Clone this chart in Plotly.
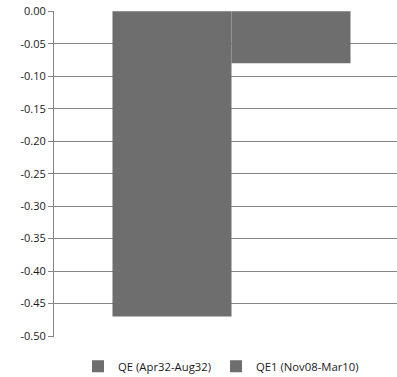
import plotly.graph_objects as go

# Change in yield, two QE episodes
series_names = ["QE (Apr32-Aug32)", "QE1 (Nov08-Mar10)"]
series_values = [-0.47, -0.08]
category = [""]
tick_values = [0.00, -0.05, -0.10, -0.15, -0.20, -0.25, -0.30, -0.35, -0.40, -0.45, -0.50]
tick_labels = ["0.00", "-0.05", "-0.10", "-0.15", "-0.20", "-0.25", "-0.30", "-0.35", "-0.40", "-0.45", "-0.50"]

bar_color = "#6e6e6e"

fig = go.Figure()
for name, val in zip(series_names, series_values):
    fig.add_trace(go.Bar(
        x=category, y=[val], name=name,
        marker=dict(color=bar_color, line=dict(width=0)),
    ))

fig.update_layout(
    width=397, height=377,
    margin=dict(l=54, r=0, t=11, b=40, autoexpand=False),
    paper_bgcolor="white", plot_bgcolor="white",
    barmode="group", bargap=0.306, bargroupgap=0,
    font=dict(family="Open Sans, Liberation Sans, sans-serif", size=11, color="#1a1a1a"),
    showlegend=True,
    legend=dict(
        orientation="h", x=0.07, xanchor="left", y=-0.045, yanchor="top",
        font=dict(size=11.3, color="#1a1a1a"),
        itemwidth=30, traceorder="normal",
        bgcolor="rgba(0,0,0,0)",
    ),
    xaxis=dict(
        range=[-0.5175, 0.4825], showgrid=False, zeroline=False,
        showticklabels=False, showline=False, fixedrange=True,
    ),
    yaxis=dict(
        range=[-0.5015, 0.0005], tickvals=tick_values, ticktext=tick_labels,
        showgrid=True, gridcolor="#868686", gridwidth=1,
        zeroline=False, showline=True, linecolor="#868686", linewidth=1,
        ticks="outside", ticklen=5, tickcolor="#868686",
        tickfont=dict(size=11, color="#1a1a1a"),
    ),
)

fig.write_html("out.html")
